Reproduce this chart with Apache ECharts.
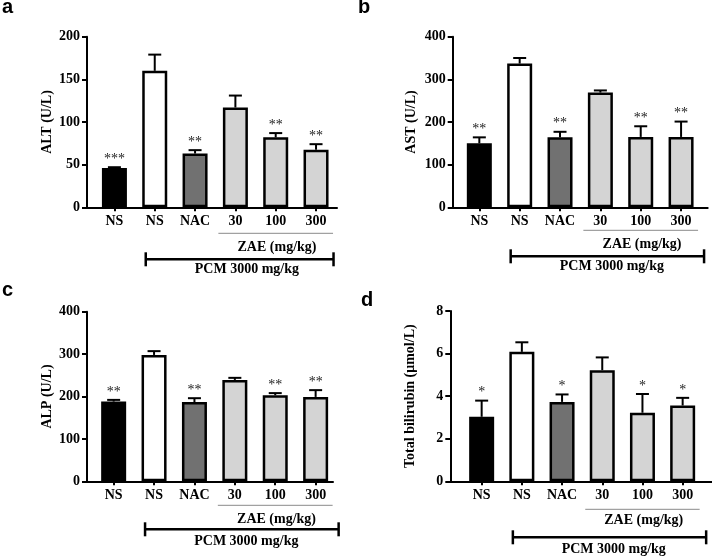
<!DOCTYPE html>
<html><head><meta charset="utf-8">
<script src="https://cdn.jsdelivr.net/npm/echarts@6/dist/echarts.min.js"></script>
<style>html,body{margin:0;padding:0;background:#fff}#c{width:712px;height:557px}</style>
</head><body><div id="c"></div>
<script>
// ---------- data ----------
const categories = ['NS', 'NS', 'NAC', '30', '100', '300'];
const altMean = [46, 160, 63, 117, 82, 67.5];
const altSem  = [1, 19, 4, 14, 5, 6.5];
const altSig  = ['***', '', '**', '', '**', '**'];
const astMean = [150, 337, 164, 269, 165, 165];
const astSem  = [14, 13, 13, 5, 25, 36];
const astSig  = ['**', '', '**', '', '**', '**'];
const alpMean = [188, 298, 187, 239, 203, 199];
const alpSem  = [4, 9, 9, 5, 5, 16];
const alpSig  = ['**', '', '**', '', '**', '**'];
const tbilMean = [3.03, 6.08, 3.73, 5.22, 3.22, 3.56];
const tbilSem  = [0.76, 0.45, 0.35, 0.6, 0.88, 0.36];
const tbilSig  = ['*', '', '*', '', '*', '*'];
const yTitles = ['ALT (U/L)', 'AST (U/L)', 'ALP (U/L)', 'Total bilirubin (μmol/L)'];
const yMax = [200, 400, 400, 8];
const yInterval = [50, 100, 100, 2];
const panelLetters = ['a', 'b', 'c', 'd'];
const doseLabel = 'ZAE (mg/kg)';
const groupLabel = 'PCM 3000 mg/kg';

// ---------- styles / layout ----------
const SERIF = '"Liberation Serif", "Times New Roman", serif';
const fills = ['#000000', '#ffffff', '#717171', '#d4d4d4', '#d4d4d4', '#d4d4d4'];
const layout = [
  {grid:{left:87, top:36.7, width:250, height:170.6}, xMin:-0.68, xMax:5.52, off:{line:26, zae:40, br:52, pcm:62}, brR:17.5, nameGap:33, letter:[2, 19]},
  {grid:{left:452.7, top:36.7, width:255, height:170.6}, xMin:-0.66, xMax:5.66, off:{line:23, zae:37, br:49, pcm:59}, brR:23, nameGap:34.5, letter:[358, 19]},
  {grid:{left:87, top:311.7, width:246, height:169.6}, xMin:-0.66, xMax:5.43, off:{line:24, zae:38, br:48, pcm:60}, brR:23, nameGap:33, letter:[2, 302]},
  {grid:{left:450.3, top:311, width:261.7, height:170.3}, xMin:-0.78, xMax:5.73, off:{line:28, zae:39, br:56, pcm:68}, brR:23.5, nameGap:32.5, letter:[361, 312]}
];
const panelData = [
  {mean: altMean, sem: altSem, sig: altSig},
  {mean: astMean, sem: astSem, sig: astSig},
  {mean: alpMean, sem: alpSem, sig: alpSig},
  {mean: tbilMean, sem: tbilSem, sig: tbilSig}
];
const idx = categories.map((c, i) => i);

const grids = [], xAxes = [], yAxes = [], series = [], graphics = [];
layout.forEach((L, p) => {
  const D = panelData[p];
  grids.push(Object.assign({containLabel: false}, L.grid));
  xAxes.push({
    type: 'value', gridIndex: p, min: L.xMin, max: L.xMax,
    axisLine: {show: true, onZero: false, lineStyle: {color: '#000', width: 2}},
    axisTick: {show: true, customValues: idx, length: 4, lineStyle: {color: '#000', width: 2}},
    axisLabel: {show: true, customValues: idx, formatter: v => categories[Math.round(v)], margin: 7,
      color: '#000', fontFamily: SERIF, fontWeight: 'bold', fontSize: 14},
    splitLine: {show: false}
  });
  yAxes.push({
    type: 'value', gridIndex: p, min: 0, max: yMax[p], interval: yInterval[p],
    axisLine: {show: true, onZero: false, lineStyle: {color: '#000', width: 2}},
    axisTick: {show: true, length: 5, lineStyle: {color: '#000', width: 2}},
    axisLabel: {margin: 7, color: '#000', fontFamily: SERIF, fontWeight: 'bold', fontSize: 14},
    splitLine: {show: false},
    name: yTitles[p], nameLocation: 'middle', nameGap: L.nameGap,
    nameTextStyle: {color: '#000', fontFamily: SERIF, fontWeight: 'bold', fontSize: 14}
  });
  series.push({
    type: 'bar', xAxisIndex: p, yAxisIndex: p, barWidth: 25, z: 2,
    itemStyle: {borderColor: '#000', borderWidth: 2.5},
    data: D.mean.map((v, i) => ({value: [i, v], itemStyle: {color: fills[i]}}))
  });
  series.push({
    type: 'custom', xAxisIndex: p, yAxisIndex: p, z: 3, clip: false,
    data: D.mean.map((v, i) => [i, v + D.sem[i]]),
    renderItem: function (params, api) {
      const i = params.dataIndex;
      const base = api.coord([i, D.mean[i]]);
      const top = api.coord([i, D.mean[i] + D.sem[i]]);
      const ch = [
        {type: 'line', shape: {x1: base[0], y1: base[1], x2: top[0], y2: top[1]}, style: {stroke: '#000', lineWidth: 2}},
        {type: 'line', shape: {x1: top[0] - 6.5, y1: top[1], x2: top[0] + 6.5, y2: top[1]}, style: {stroke: '#000', lineWidth: 2}}
      ];
      if (D.sig[i]) ch.push({type: 'text', x: top[0], y: top[1] - 1,
        style: {text: D.sig[i], fill: '#222', font: '14px ' + SERIF, align: 'center', verticalAlign: 'bottom'}});
      return {type: 'group', children: ch};
    }
  });
  series.push({
    type: 'custom', xAxisIndex: p, yAxisIndex: p, z: 3, clip: false, silent: true,
    data: [[0, 0]],
    renderItem: function (params, api) {
      const y0 = api.coord([0, 0])[1];
      const c1 = api.coord([1, 0])[0], c3 = api.coord([3, 0])[0], c5 = api.coord([5, 0])[0];
      const o = L.off;
      const bl = c1 - 9, br = c5 + L.brR;
      const tfont = 'bold 14px ' + SERIF;
      return {type: 'group', children: [
        {type: 'line', shape: {x1: c3 - 17, y1: y0 + o.line, x2: c5 + 17, y2: y0 + o.line}, style: {stroke: '#8a8a8a', lineWidth: 1}},
        {type: 'text', x: (c3 + c5) / 2 + 1.3, y: y0 + o.zae, style: {text: doseLabel, font: tfont, fill: '#000', align: 'center', verticalAlign: 'middle'}},
        {type: 'line', shape: {x1: bl, y1: y0 + o.br, x2: br, y2: y0 + o.br}, style: {stroke: '#000', lineWidth: 2.5}},
        {type: 'line', shape: {x1: bl, y1: y0 + o.br - 7, x2: bl, y2: y0 + o.br + 7}, style: {stroke: '#000', lineWidth: 2.5}},
        {type: 'line', shape: {x1: br, y1: y0 + o.br - 7, x2: br, y2: y0 + o.br + 7}, style: {stroke: '#000', lineWidth: 2.5}},
        {type: 'text', x: (c1 + c5) / 2 + 11.5, y: y0 + o.pcm, style: {text: groupLabel, font: tfont, fill: '#000', align: 'center', verticalAlign: 'middle'}}
      ]};
    }
  });
  graphics.push({type: 'text', left: L.letter[0], top: L.letter[1] - 22,
    style: {text: panelLetters[p], font: 'bold 20px "Liberation Sans", Arial, sans-serif', fill: '#000'}});
});

const chart = echarts.init(document.getElementById('c'), null, {renderer: 'canvas'});
chart.setOption({
  animation: false,
  backgroundColor: '#fff',
  grid: grids, xAxis: xAxes, yAxis: yAxes, series: series, graphic: graphics
});
</script></body></html>
